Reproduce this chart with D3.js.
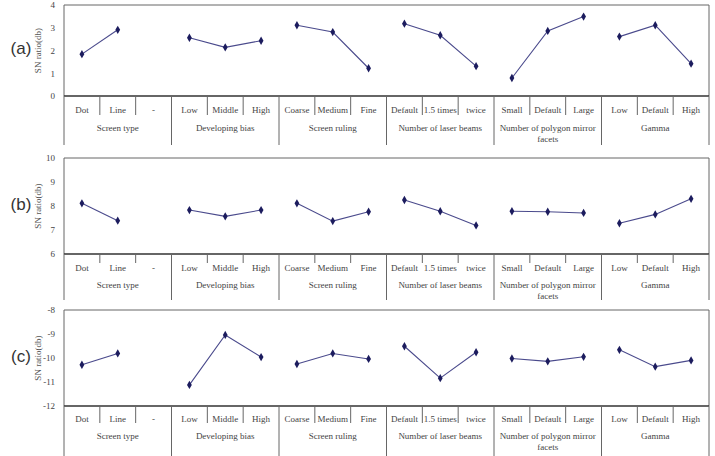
<!DOCTYPE html>
<html><head><meta charset="utf-8">
<script src="https://cdn.jsdelivr.net/npm/d3@7"></script>
<style>body{margin:0;background:#fff}svg{display:block}
.sf{font-family:"Liberation Serif","Times New Roman",serif}</style>
</head><body>
<svg id="c" width="715" height="456"></svg>
<script>
const levels = ["Dot","Line","-","Low","Middle","High","Coarse","Medium","Fine","Default","1.5 times","twice","Small","Default","Large","Low","Default","High"];
const groups = [["Screen type"],["Developing bias"],["Screen ruling"],["Number of laser beams"],["Number of polygon mirror","facets"],["Gamma"]];
const groupSize = 3;
const valuesA = [1.84,2.91,null, 2.56,2.14,2.43, 3.11,2.81,1.22, 3.18,2.67,1.31, 0.79,2.86,3.49, 2.61,3.11,1.42];
const valuesB = [8.11,7.39,null, 7.83,7.57,7.83, 8.11,7.37,7.76, 8.25,7.78,7.19, 7.78,7.76,7.71, 7.28,7.65,8.30];
const valuesC = [-10.28,-9.81,null, -11.12,-9.04,-9.96, -10.25,-9.81,-10.04, -9.51,-10.84,-9.76, -10.02,-10.14,-9.95, -9.66,-10.36,-10.10];
const domainA = [0,4], ticksA = [0,1,2,3,4];
const domainB = [6,10], ticksB = [6,7,8,9,10];
const domainC = [-12,-8], ticksC = [-12,-11,-10,-9,-8];

const svg = d3.select("#c");
const L = 64, R = 709;
const x = d3.scaleBand().domain(d3.range(levels.length)).range([L,R]).padding(0);

const panels = [
  {tag:"(a)", vals:valuesA, dom:domainA, ticks:ticksA, top:5, bot:96, catSep:115, catY:110, grpY:128, grpSep:145},
  {tag:"(b)", vals:valuesB, dom:domainB, ticks:ticksB, top:158, bot:254, catSep:263, catY:268, grpY:285, grpSep:300},
  {tag:"(c)", vals:valuesC, dom:domainC, ticks:ticksC, top:310, bot:406, catSep:423, catY:419, grpY:436, grpSep:456}
];
const FS = "9px";
panels.forEach(p => {
  const g = svg.append("g");
  const y = d3.scaleLinear().domain(p.dom).range([p.bot,p.top]);
  g.append("path").attr("d",`M${L},${p.bot}V${p.top}H${R}V${p.bot}`).attr("fill","none").attr("stroke","#666").attr("stroke-width",1);
  const ya = g.append("g").attr("transform",`translate(${L},0)`)
    .call(d3.axisLeft(y).tickValues(p.ticks).tickFormat(d => String(d)).tickSize(0).tickPadding(9));
  ya.attr("font-family",null).attr("font-size",null);
  ya.select(".domain").remove();
  ya.selectAll("text").attr("class","sf").style("font-size","9px").attr("fill","#444");
  g.append("line").attr("x1",L).attr("x2",R).attr("y1",p.bot).attr("y2",p.bot).attr("stroke","#333").attr("stroke-width",1.5);
  d3.range(1,levels.length).forEach(i => {
    if (i % groupSize === 0) return;
    g.append("line").attr("x1",x(i)).attr("x2",x(i)).attr("y1",p.bot).attr("y2",p.catSep).attr("stroke","#666");
  });
  d3.range(0,levels.length+1,groupSize).forEach(i => {
    const xx = i===levels.length ? R : x(i);
    g.append("line").attr("x1",xx).attr("x2",xx).attr("y1",p.bot).attr("y2",p.grpSep).attr("stroke","#666");
  });
  levels.forEach((l,i) => {
    g.append("text").attr("class","sf").attr("x",x(i)+x.bandwidth()/2).attr("y",p.catY).attr("dy","0.35em").attr("text-anchor","middle")
      .style("font-size",FS).attr("fill","#444").text(l);
  });
  groups.forEach((gr,j) => {
    const cx = (x(j*groupSize) + (j*groupSize+groupSize===levels.length ? R : x(j*groupSize+groupSize)))/2;
    gr.forEach((t,k) => {
      g.append("text").attr("class","sf").attr("x",cx).attr("y",p.grpY + k*11).attr("dy","0.35em").attr("text-anchor","middle")
        .style("font-size",FS).attr("fill","#444").text(t);
    });
  });
  const cy = (p.top+p.bot)/2;
  g.append("text").attr("class","sf").attr("transform",`translate(38,${cy}) rotate(-90)`).attr("text-anchor","middle").attr("dy","0.35em")
    .style("font-size",FS).attr("fill","#555").text("SN ratio(db)");
  g.append("text").attr("x",21).attr("y",cy-2).attr("dy","0.35em").attr("text-anchor","middle")
    .style("font-family","'Liberation Sans',Arial,sans-serif").style("font-size","17px").attr("fill","#333").text(p.tag);
  const line = d3.line().x(d => x(d.i)+x.bandwidth()/2).y(d => y(d.v));
  d3.range(groups.length).forEach(j => {
    const pts = d3.range(j*groupSize, j*groupSize+groupSize).map(i => ({i, v:p.vals[i]})).filter(d => d.v !== null);
    g.append("path").datum(pts).attr("d",line).attr("fill","none").attr("stroke","#4a4a8c").attr("stroke-width",1.1);
  });
  const sym = d3.symbol().type(d3.symbolDiamond).size(20);
  p.vals.forEach((v,i) => {
    if (v === null) return;
    g.append("path").attr("d",sym).attr("transform",`translate(${x(i)+x.bandwidth()/2},${y(v)})`).attr("fill","#1c1c5e");
  });
});
</script>
</body></html>
